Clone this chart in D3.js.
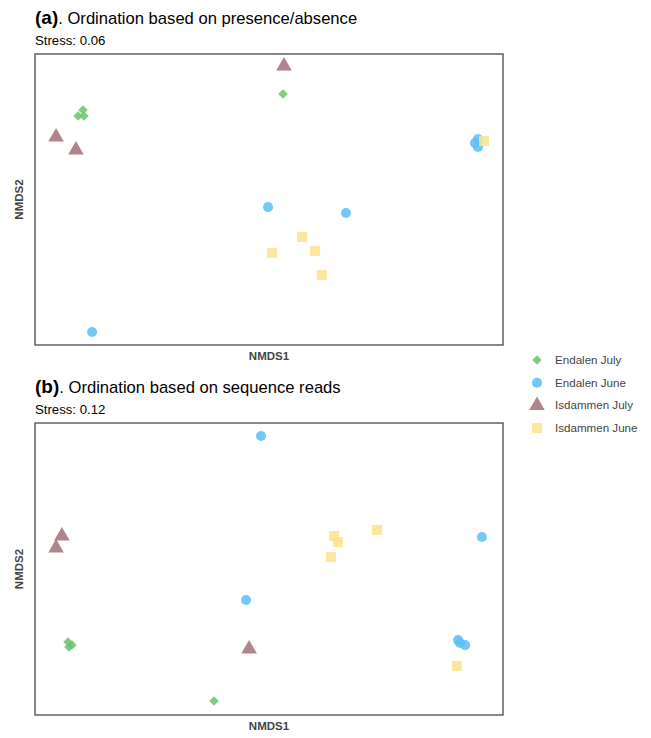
<!DOCTYPE html>
<html><head><meta charset="utf-8">
<script src="https://cdn.jsdelivr.net/npm/d3@7"></script>
<style>body{margin:0;background:#fff;} text{font-family:"Liberation Sans",Arial,sans-serif;}</style>
</head><body>
<svg id="c" width="651" height="738"></svg>
<script>
const groups = ["Endalen July","Endalen June","Isdammen July","Isdammen June"];
const colors = ["#6cc36c","#5bbff5","#a26f78","#fbe48c"];
const symbols = [d3.symbolDiamond2, d3.symbolCircle, d3.symbolTriangle, d3.symbolSquare];
const symSizes = [58, 80, 105, 100];

// Panel (a): presence/absence NMDS scores
const aEndalenJuly = [[-0.795,0.615],[-0.816,0.574],[-0.791,0.574],[0.060,0.725]];
const aEndalenJune = [[0.880,0.388],[0.893,0.416],[0.893,0.361],[-0.004,-0.052],[0.329,-0.093],[-0.756,-0.911]];
const aIsdammenJuly = [[0.064,0.918],[-0.910,0.430],[-0.825,0.340]];
const aIsdammenJune = [[0.919,0.402],[0.141,-0.258],[0.197,-0.354],[0.013,-0.368],[0.226,-0.519]];
// Panel (b): sequence reads NMDS scores
const bEndalenJuly = [[-0.859,-0.500],[-0.842,-0.521],[-0.855,-0.534],[-0.235,-0.904]];
const bEndalenJune = [[-0.034,0.911],[0.910,0.219],[-0.098,-0.212],[0.808,-0.486],[0.838,-0.521],[0.816,-0.507]];
const bIsdammenJuly = [[-0.885,0.226],[-0.910,0.144],[-0.085,-0.548]];
const bIsdammenJune = [[0.278,0.226],[0.295,0.185],[0.462,0.267],[0.265,0.082],[0.803,-0.664]];

const panels = [
  {tag:"(a)", title:". Ordination based on presence/absence", stress:"Stress: 0.06",
   series:[aEndalenJuly,aEndalenJune,aIsdammenJuly,aIsdammenJune], top:54, bottom:345},
  {tag:"(b)", title:". Ordination based on sequence reads", stress:"Stress: 0.12",
   series:[bEndalenJuly,bEndalenJune,bIsdammenJuly,bIsdammenJune], top:423, bottom:715}
];

const svg = d3.select("#c");
const left = 35, right = 503;

panels.forEach(p => {
  const x = d3.scaleLinear().domain([-1,1]).range([left,right]);
  const y = d3.scaleLinear().domain([-1,1]).range([p.bottom,p.top]);
  const t = svg.append("text").attr("x",35).attr("y",p.top-30).attr("fill","#000");
  t.append("tspan").attr("font-size",19).attr("font-weight","bold").text(p.tag);
  t.append("tspan").attr("font-size",16.6).text(p.title);
  svg.append("text").attr("x",35).attr("y",p.top-9).attr("font-size",13.2).attr("fill","#000").text(p.stress);
  svg.append("rect").attr("x",left).attr("y",p.top).attr("width",right-left).attr("height",p.bottom-p.top)
    .attr("fill","none").attr("stroke","#555").attr("stroke-width",1.4);
  p.series.forEach((s,i) => {
    svg.append("g").selectAll("path").data(s).join("path")
      .attr("transform", d => `translate(${x(d[0])},${y(d[1])})`)
      .attr("d", d3.symbol().type(symbols[i]).size(symSizes[i]))
      .attr("fill", colors[i]).attr("fill-opacity",0.85);
  });
  svg.append("text").attr("x",(left+right)/2).attr("y",p.bottom+15).attr("text-anchor","middle")
    .attr("font-size",11.5).attr("font-weight","bold").attr("fill","#444").text("NMDS1");
  const cy = (p.top+p.bottom)/2;
  svg.append("text").attr("transform",`translate(23,${cy}) rotate(-90)`).attr("text-anchor","middle")
    .attr("font-size",11.5).attr("font-weight","bold").attr("fill","#444").text("NMDS2");
});

const leg = svg.append("g");
groups.forEach((g,i) => {
  const yy = 360 + i*22.7;
  leg.append("path").attr("transform",`translate(537,${yy})`)
    .attr("d", d3.symbol().type(symbols[i]).size(symSizes[i]))
    .attr("fill", colors[i]).attr("fill-opacity",0.85);
  leg.append("text").attr("x",555).attr("y",yy+4).attr("font-size",11.6).attr("fill","#444").text(g);
});
</script>
</body></html>
